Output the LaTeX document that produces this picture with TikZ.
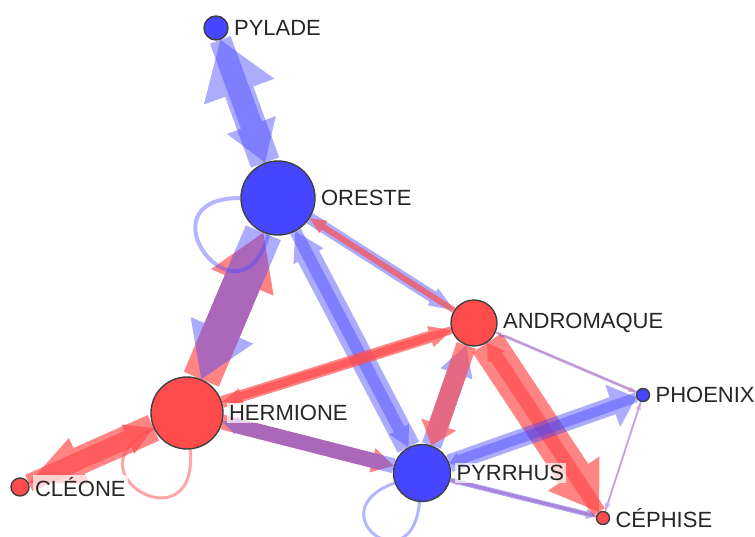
\documentclass[tikz,border=0pt]{standalone}
\usepackage{fontspec}
\setmainfont{Liberation Sans}
\usetikzlibrary{arrows.meta,positioning}
\definecolor{nblue}{RGB}{70,70,255}
\definecolor{nred}{RGB}{255,75,75}
\pgfdeclarelayer{bg}
\pgfsetlayers{bg,main}

\begin{document}
\begin{tikzpicture}[x=0.5pt,y=-0.5pt] %% 1 unit = 1 pixel
	\tikzstyle{bnode}=[circle,draw=black!75,line width=0.7pt,fill=nblue,inner sep=0pt];
	\tikzstyle{rnode}=[circle,draw=black!75,line width=0.7pt,fill=nred,inner sep=0pt];
	\tikzstyle{lab}=[inner sep=1pt,fill=white,fill opacity=0.7,text opacity=1,text=black!85,font=\fontsize{11}{13}\selectfont];
	\tikzstyle{bedge}=[draw=nblue,opacity=0.45];
	\tikzstyle{redge}=[draw=nred,opacity=0.68];
	\tikzset{ahead/.style 2 args={-{Triangle[width=#1,length=#2,line width=0pt]}}}
	\useasboundingbox (0,0) rectangle (755,536);
	%% characters
	\node[bnode,minimum size=12pt] (pylade) at (216,28) {};
	\node[bnode,minimum size=37pt] (oreste) at (278,198) {};
	\node[rnode,minimum size=23pt] (andromaque) at (474,323) {};
	\node[bnode,minimum size=6.5pt] (phoenix) at (643,395) {};
	\node[rnode,minimum size=36pt] (hermione) at (187,413) {};
	\node[bnode,minimum size=28.5pt] (pyrrhus) at (422,473) {};
	\node[rnode,minimum size=9pt] (cleone) at (20,487) {};
	\node[rnode,minimum size=6.5pt] (cephise) at (603,518) {};
	%% names
	\node[lab,right=1.5pt of pylade] (pyladel) {PYLADE};
	\node[lab,right=1.5pt of oreste] (orestel) {ORESTE};
	\node[lab,right=1.5pt of andromaque] (andromaquel) {ANDROMAQUE};
	\node[lab,right=1.5pt of phoenix] (phoenixl) {PHOENIX};
	\node[lab,right=1.5pt of hermione] (hermionel) {HERMIONE};
	\node[lab,right=1.5pt of pyrrhus] (pyrrhusl) {PYRRHUS};
	\node[lab,right=1.5pt of cleone] (cleonel) {CLÉONE};
	\node[lab,right=1.5pt of cephise] (cephisel) {CÉPHISE};
	%% exchanges
	\begin{pgfonlayer}{bg}
	\draw[bedge,line width=15pt,ahead={37.5pt}{27.5pt}] (oreste) -- (pylade);
	\draw[bedge,line width=11pt,ahead={26pt}{20pt}] (pylade) -- (oreste);
	\draw[redge,line width=19pt,ahead={34pt}{27pt}] (hermione) -- (oreste);
	\draw[bedge,line width=19pt,ahead={34pt}{26.5pt}] (oreste) -- (hermione);
	\draw[bedge,line width=6pt,ahead={10pt}{12.5pt}] (oreste) -- (andromaque);
	\draw[redge,line width=3pt,ahead={7.5pt}{8pt}] (andromaque) -- (oreste);
	\draw[bedge,line width=12pt,ahead={17pt}{14pt}] (pyrrhus) -- (oreste);
	\draw[bedge,line width=6pt,ahead={11pt}{10pt}] (oreste) -- (pyrrhus);
	\draw[redge,line width=6pt,ahead={11pt}{11pt}] (hermione) -- (andromaque);
	\draw[redge,line width=4pt,ahead={8pt}{10pt}] (andromaque) -- (hermione);
	\draw[redge,line width=7.5pt,ahead={12.5pt}{11pt}] (hermione) -- (pyrrhus);
	\draw[bedge,line width=7.5pt,ahead={9pt}{7.5pt}] (pyrrhus) -- (hermione);
	\draw[redge,line width=14pt,ahead={25pt}{27.5pt}] (hermione) -- (cleone);
	\draw[redge,line width=9pt,ahead={16pt}{14pt}] (cleone) -- (hermione);
	\draw[bedge,line width=10pt,ahead={17pt}{15pt}] (pyrrhus) -- (andromaque);
	\draw[redge,line width=10pt,ahead={18.5pt}{11pt}] (andromaque) -- (pyrrhus);
	\draw[redge,line width=17.5pt,ahead={31pt}{23pt}] (andromaque) -- (cephise);
	\draw[redge,line width=7pt,ahead={10.5pt}{8.5pt}] (cephise) -- (andromaque);
	\draw[redge,opacity=0.4,line width=1pt,ahead={3pt}{4pt}] (andromaque) -- (phoenix);
	\draw[bedge,opacity=0.3,line width=1.5pt,ahead={3pt}{4pt}] (phoenix) -- (andromaque);
	\draw[bedge,line width=9pt,ahead={22.5pt}{12.5pt}] (pyrrhus) -- (phoenix);
	\draw[bedge,line width=5pt,ahead={7.5pt}{5pt}] (phoenix) -- (pyrrhus);
	\draw[redge,opacity=0.4,line width=1.5pt,ahead={4pt}{4pt}] (cephise) -- (pyrrhus);
	\draw[bedge,line width=2.5pt,ahead={5pt}{5pt}] (pyrrhus) -- (cephise);
	\draw[redge,opacity=0.3,line width=0.75pt,ahead={3pt}{4pt}] (cephise) -- (phoenix);
	\draw[bedge,opacity=0.3,line width=1pt,ahead={3pt}{4pt}] (phoenix) -- (cephise);
	%% monologues
	\draw[bedge,opacity=0.4,line width=2pt] (oreste) to[out=180,in=255,distance=52pt] (oreste);
	\draw[redge,opacity=0.5,line width=1.5pt] (hermione) to[out=205,in=275,distance=50pt] (hermione);
	\draw[bedge,opacity=0.4,line width=1.5pt] (pyrrhus) to[out=200,in=265,distance=42pt] (pyrrhus);
	\end{pgfonlayer}
\end{tikzpicture}
\end{document}
